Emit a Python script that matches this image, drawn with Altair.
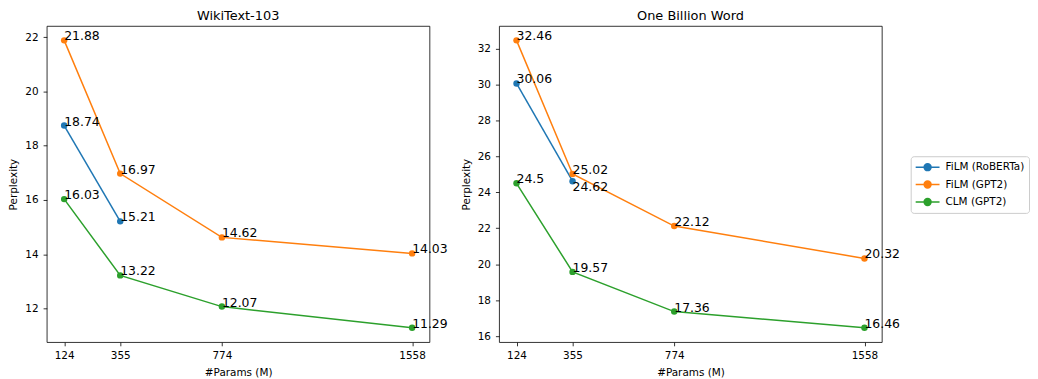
import altair as alt
import pandas as pd

params = [124, 355, 774, 1558]
series_names = ["FiLM (RoBERTa)", "FiLM (GPT2)", "CLM (GPT2)"]
colors = ["#1f77b4", "#ff7f0e", "#2ca02c"]

wiki_roberta = [18.74, 15.21]
wiki_gpt2 = [21.88, 16.97, 14.62, 14.03]
wiki_clm = [16.03, 13.22, 12.07, 11.29]

obw_roberta = [30.06, 24.62]
obw_gpt2 = [32.46, 25.02, 22.12, 20.32]
obw_clm = [24.5, 19.57, 17.36, 16.46]

wiki_ticks = [12, 14, 16, 18, 20, 22]
obw_ticks = [16, 18, 20, 22, 24, 26, 28, 30, 32]

# label drawn below its point (as in the reference)
below_labels = [("One Billion Word", "FiLM (RoBERTa)", 355)]

rows = []
for ds, groups in [("WikiText-103", [wiki_roberta, wiki_gpt2, wiki_clm]),
                   ("One Billion Word", [obw_roberta, obw_gpt2, obw_clm])]:
    for name, vals in zip(series_names, groups):
        for i, v in enumerate(vals):
            rows.append({"dataset": ds, "series": name, "params": params[i], "ppl": v,
                         "label": str(v),
                         "below": (ds, name, params[i]) in below_labels})
df = pd.DataFrame(rows)

FONT = "DejaVu Sans"
color_scale = alt.Scale(domain=series_names, range=colors)
xmin, xmax = min(params), max(params)
xpad = (xmax - xmin) * 0.05

LEGEND_SYMBOL = ("M-2,0L2,0M-0.58,0A0.58,0.58 0 1,1 0.58,0"
                 "A0.58,0.58 0 1,1 -0.58,0Z")


def panel(ds, ticks, show_legend):
    d = df[df.dataset == ds]
    lo, hi = d.ppl.min(), d.ppl.max()
    pad = (hi - lo) * 0.05
    x = alt.X("params:Q", scale=alt.Scale(domain=[xmin - xpad, xmax + xpad], nice=False, zero=False),
              axis=alt.Axis(values=params, title="#Params (M)", format="d"))
    y = alt.Y("ppl:Q", scale=alt.Scale(domain=[lo - pad, hi + pad], nice=False, zero=False),
              axis=alt.Axis(values=ticks, title="Perplexity", format="d"))
    legend = alt.Legend(
        title=None, orient="none", legendX=869, legendY=131,
        symbolType=LEGEND_SYMBOL,
        symbolSize=144, symbolStrokeWidth=1.5, labelFontSize=10.5, labelFont=FONT,
        labelColor="black", rowPadding=3.5, strokeColor="#cccccc", padding=4,
        cornerRadius=3, fillColor="white", symbolOffset=6, labelOffset=11,
    ) if show_legend else None
    color = alt.Color("series:N", scale=color_scale, legend=legend)
    base = alt.Chart(d)
    line = base.mark_line(strokeWidth=1.5).encode(x=x, y=y, color=color, detail="series:N",
                                                    order="params:Q")
    pts = base.mark_point(filled=True, size=42, opacity=1).encode(x=x, y=y, color=color)
    txt_up = base.transform_filter("!datum.below").mark_text(
        align="left", baseline="alphabetic", fontSize=12.5, font=FONT, color="black"
    ).encode(x=x, y=y, text="label:N")
    txt_dn = base.transform_filter("datum.below").mark_text(
        align="left", baseline="top", fontSize=12.5, font=FONT, color="black"
    ).encode(x=x, y=y, text="label:N")
    return alt.layer(line, pts, txt_up, txt_dn).properties(
        title=alt.TitleParams(ds, fontSize=13, fontWeight="normal", font=FONT, offset=3,
                              color="black")
    )


left = panel("WikiText-103", wiki_ticks, True).properties(width=385, height=318)
right = panel("One Billion Word", obw_ticks, False).properties(width=385, height=318)

chart = alt.hconcat(left, right, spacing=70, bounds="flush").properties(
    padding={"left": 0, "top": 0, "right": 0, "bottom": 0}
).configure_view(stroke="black", strokeWidth=0.8).configure_axis(
    grid=False, domain=False, tickColor="black", tickSize=3.7, tickWidth=0.8,
    labelFontSize=10.5, labelFont=FONT, labelColor="black", labelPadding=5,
    titleFontSize=10.5, titleFont=FONT, titleFontWeight="normal", titleColor="black",
    titlePadding=6,
)

chart.save("out.html", embed_options={"renderer": "svg", "actions": False})
